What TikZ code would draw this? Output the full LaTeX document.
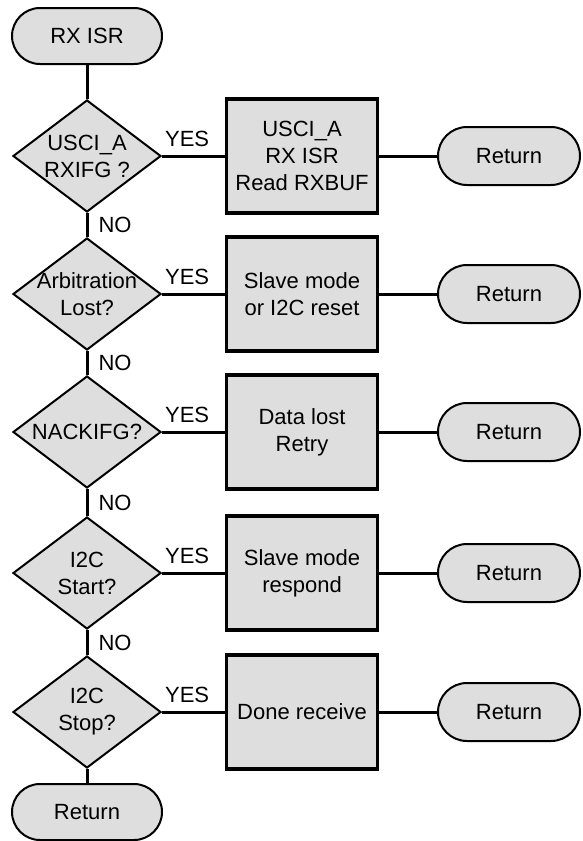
\documentclass[tikz,border=0pt]{standalone}
\usepackage{fontspec}
\setmainfont{Liberation Sans}
\usetikzlibrary{shapes.geometric}
\definecolor{fillgray}{RGB}{222,222,222}
\tikzset{
  term/.style={draw,line width=2pt,fill=fillgray,rounded corners=28pt,
    minimum width=150pt,minimum height=56pt,inner sep=0pt},
  ret/.style={term,rounded corners=29pt,minimum width=142pt,minimum height=58pt},
  decision/.style={draw,diamond,line width=2pt,fill=fillgray,
    minimum width=148pt,minimum height=112pt,inner sep=0pt},
  dtext/.style={align=center,inner sep=0pt},
  action/.style={draw,line width=3.5pt,fill=fillgray,align=center,
    minimum width=151pt,minimum height=114pt,inner sep=0pt},
  conn/.style={line width=3pt},
  yes/.style={pos=0.4,above=8pt,inner sep=0pt},
  no/.style={right=10pt,inner sep=0pt}
}
\begin{document}
\begin{tikzpicture}[x=1pt,y=-1pt,every node/.style={font=\fontsize{22}{27}\selectfont}]
\useasboundingbox (0,0) rectangle (582,841);
\node[term] (start) at (87,36) {RX ISR};
\node[decision,label={[dtext]center:USCI\_A\\RXIFG ?}] (d1) at (87,156) {};
\node[decision,label={[dtext]center:Arbitration\\Lost?}] (d2) at (87,294) {};
\node[decision,label={[dtext]center:NACKIFG?}] (d3) at (87,432) {};
\node[decision,label={[dtext]center:I2C\\Start?}] (d4) at (87,573) {};
\node[decision,label={[dtext]center:I2C\\Stop?}] (d5) at (87,712) {};
\node[term] (end) at (87,812) {Return};
\node[action] (b1) at (302,156) {USCI\_A\\RX ISR\\Read RXBUF};
\node[action] (b2) at (302,294) {Slave mode\\or I2C reset};
\node[action] (b3) at (302,432) {Data lost\\Retry};
\node[action] (b4) at (302,573) {Slave mode\\respond};
\node[action] (b5) at (302,712) {Done receive};
\node[ret] (r1) at (509,156) {Return};
\node[ret] (r2) at (509,294) {Return};
\node[ret] (r3) at (509,432) {Return};
\node[ret] (r4) at (509,573) {Return};
\node[ret] (r5) at (509,712) {Return};
% main column
\draw[conn] (start) -- (d1);
\draw[conn] (d1) -- node[no]{NO} (d2);
\draw[conn] (d2) -- node[no]{NO} (d3);
\draw[conn] (d3) -- node[no]{NO} (d4);
\draw[conn] (d4) -- node[no]{NO} (d5);
\draw[conn] (d5) -- (end);
% yes branches
\draw[conn] (d1) -- node[yes]{YES} (b1) (b1) -- (r1);
\draw[conn] (d2) -- node[yes]{YES} (b2) (b2) -- (r2);
\draw[conn] (d3) -- node[yes]{YES} (b3) (b3) -- (r3);
\draw[conn] (d4) -- node[yes]{YES} (b4) (b4) -- (r4);
\draw[conn] (d5) -- node[yes]{YES} (b5) (b5) -- (r5);
\end{tikzpicture}
\end{document}
